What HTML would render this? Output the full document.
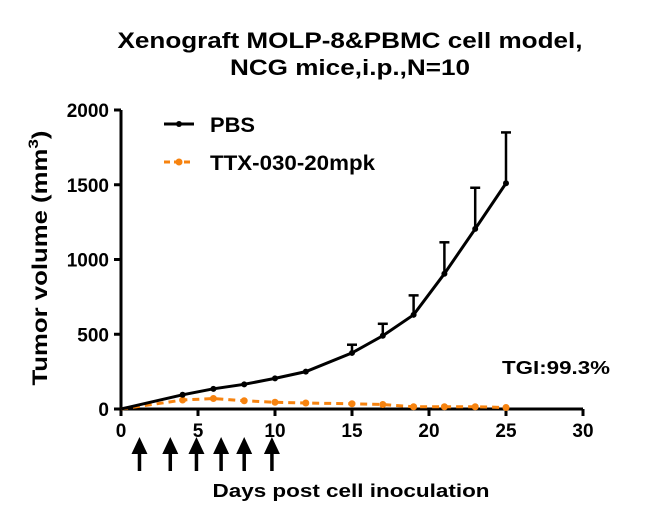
<!DOCTYPE html>
<html><head><meta charset="utf-8"><style>
body{margin:0;background:#fff;}
svg text{font-family:"Liberation Sans",Arial,sans-serif;font-weight:bold;}
</style></head><body>
<svg id="c" width="650" height="523">
<text x="350" y="48" font-size="22" text-anchor="middle" textLength="465" lengthAdjust="spacingAndGlyphs">Xenograft MOLP-8&amp;PBMC cell model,</text>
<text x="350" y="75" font-size="22" text-anchor="middle" textLength="240" lengthAdjust="spacingAndGlyphs">NCG mice,i.p.,N=10</text>
<text transform="translate(47,258) rotate(-90)" font-size="21" text-anchor="middle" textLength="255" lengthAdjust="spacingAndGlyphs">Tumor volume (mm<tspan dy="-9" font-size="14">3</tspan><tspan dy="9">)</tspan></text>
<text x="351" y="497" font-size="18" text-anchor="middle" textLength="277" lengthAdjust="spacingAndGlyphs">Days post cell inoculation</text>
<text x="502" y="374" font-size="18" textLength="108" lengthAdjust="spacingAndGlyphs">TGI:99.3%</text>
<g>
<line x1="164" y1="124" x2="194" y2="124" stroke="#000" stroke-width="3"/>
<circle cx="179" cy="124" r="3" fill="#000"/>
<text x="210" y="132" font-size="21" textLength="45" lengthAdjust="spacingAndGlyphs">PBS</text>
<line x1="164" y1="162" x2="194" y2="162" stroke="#f7830f" stroke-width="3" stroke-dasharray="6,4"/>
<circle cx="179" cy="162" r="3.5" fill="#f7830f"/>
<text x="210" y="170" font-size="21" textLength="165" lengthAdjust="spacingAndGlyphs">TTX-030-20mpk</text>
</g>
<g id="plot"></g>
</svg>
<script>
const days=[0,4,6,8,10,12,15,17,19,21,23,25];
const pbs=[0,95,135,165,205,250,375,490,630,905,1205,1510];
const pbsErr=[0,0,0,0,0,0,55,80,130,210,275,340];
const ttx=[0,60,70,55,45,40,35,30,15,15,15,10];
const xTicks=[0,5,10,15,20,25,30];
const yTicks=[0,500,1000,1500,2000];
const doseDays=[1.2,3.2,4.9,6.5,8.0,9.8];
const X=d=>121+d*15.4, Y=v=>409-v*0.1495;
const NS="http://www.w3.org/2000/svg", g=document.getElementById('plot');
function mk(t,a){const e=document.createElementNS(NS,t);for(const k in a)e.setAttribute(k,a[k]);g.appendChild(e);return e;}
let e=mk('line',{x1:X(0),y1:Y(0),x2:X(30),y2:Y(0),stroke:'#000','stroke-width':3});


e=mk('line',{x1:X(0),y1:Y(0)+1,x2:X(0),y2:Y(2000),stroke:'#000','stroke-width':3});


xTicks.forEach(t=>{mk('line',{x1:X(t),y1:Y(0),x2:X(t),y2:Y(0)+7,stroke:'#000','stroke-width':3});
 e=mk('text',{x:X(t),y:437,'font-size':19,'text-anchor':'middle'});e.textContent=t;
 
 });
yTicks.forEach(t=>{mk('line',{x1:X(0)-7,y1:Y(t),x2:X(0),y2:Y(t),stroke:'#000','stroke-width':3});
 e=mk('text',{x:109,y:Y(t)+7,'font-size':19,'text-anchor':'end'});e.textContent=t;
 
 });
days.forEach((d,i)=>{if(pbsErr[i]>0){mk('line',{x1:X(d),y1:Y(pbs[i]),x2:X(d),y2:Y(pbs[i]+pbsErr[i]),stroke:'#000','stroke-width':2.5});
 e=mk('line',{x1:X(d)-5,y1:Y(pbs[i]+pbsErr[i]),x2:X(d)+5,y2:Y(pbs[i]+pbsErr[i]),stroke:'#000','stroke-width':2.5});
 
 }});
e=mk('polyline',{points:days.map((d,i)=>X(d)+','+Y(ttx[i])).join(' '),fill:'none',stroke:'#f7830f','stroke-width':3,'stroke-dasharray':'7,5'});


days.forEach((d,i)=>{if(i>0){e=mk('circle',{cx:X(d),cy:Y(ttx[i]),r:3.5,fill:'#f7830f'});
 
 }});
e=mk('polyline',{points:days.map((d,i)=>X(d)+','+Y(pbs[i])).join(' '),fill:'none',stroke:'#000','stroke-width':3});


days.forEach((d,i)=>{if(i>0){e=mk('circle',{cx:X(d),cy:Y(pbs[i]),r:3,fill:'#000'});
 
 }});
doseDays.forEach(d=>{const x=X(d);
 mk('line',{x1:x,y1:452,x2:x,y2:471,stroke:'#000','stroke-width':3.5});
 e=mk('polygon',{points:`${x-8},454 ${x+8},454 ${x},437`,fill:'#000'});
 
 });
</script>
</body></html>
